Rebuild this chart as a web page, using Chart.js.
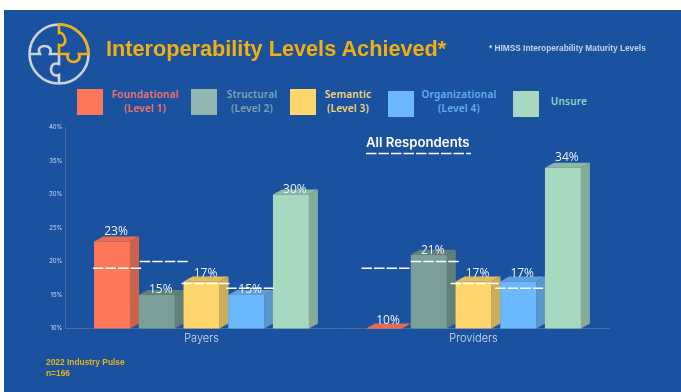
<!DOCTYPE html>
<html>
<head>
<meta charset="utf-8">
<title>Interoperability Levels Achieved</title>
<script src="https://cdn.jsdelivr.net/npm/chart.js@4"></script>
<style>
    html, body { margin: 0; padding: 0; background: #fff; }
    #page { position: relative; width: 681px; height: 392px; overflow: hidden; }
    #panel { position: absolute; left: 4px; top: 10px; width: 677px; height: 382px; background: #1a52a0; }
    #chart-box { position: absolute; left: 0; top: 0; width: 681px; height: 392px; }
    .txt { position: absolute; white-space: nowrap; }
    #title { left: 106px; top: 36px; font: bold 21.7px "Liberation Sans", sans-serif; color: #f2b00e; }
    #note { left: 489px; top: 43px; font: bold 8.3px "Liberation Sans", sans-serif; color: #c9d3e6; }
    #pulse { left: 46px; top: 357px; font: bold 8.4px/11px "Liberation Sans", sans-serif; color: #e8b31c; }
    #resp { left: 366px; top: 134px; font: 600 13.2px Inter, sans-serif; color: #fff; }
    .swatch { position: absolute; width: 26px; height: 26px; }
    .leg { position: absolute; text-align: center; font: 600 10px/13.5px "Noto Sans", sans-serif; letter-spacing: 0.2px; white-space: nowrap; transform: translateX(-50%); }
    #logo { position: absolute; left: 28px; top: 23px; }
</style>
</head>
<body>
<div id="page">
    <div id="panel"></div>
    <svg id="logo" width="64" height="64" viewBox="0 0 64 64" fill="none" stroke-width="2.6">
        <g stroke="#cdd3da">
            <circle cx="31" cy="31" r="29.5"/>
            <path d="M2 31 H12 C9 25 13 23 17 23 C21 23 24 26 22 31 H31 V41 C25 39 23 43 23 46.5 C23 50 26 54 31 52 V60"/>
        </g>
        <g stroke="#f2b00e">
            <path d="M31 1.5 A29.5 29.5 0 0 1 60.5 31 H51 C53 36 49 39 45.5 39 C42 39 38 36 40 31 H31 V22 C36 24 38 19 37 15.5 C36 12 34 9 31 10 Z"/>
        </g>
    </svg>
    <div id="legend"></div>
    <div id="chart-box"><canvas id="chart" width="681" height="392"></canvas></div>
    <div class="txt" id="title">Interoperability Levels Achieved*</div>
    <div class="txt" id="note">* HIMSS Interoperability Maturity Levels</div>
    <div class="txt" id="resp">All Respondents</div>
    <div class="txt" id="pulse">2022 Industry Pulse<br>n=166</div>
</div>
<script>
const groups = ['Payers', 'Providers'];
const levels = ['Foundational\n(Level 1)', 'Structural\n(Level 2)', 'Semantic\n(Level 3)', 'Organizational\n(Level 4)', 'Unsure'];
const foundational = [23, 10];
const structural = [15, 21];
const semantic = [17, 17];
const organizational = [15, 17];
const unsure = [30, 34];
// all-respondents figure per level, the dashed markers
const allRespondents = [19, 20, 16.7, 16, null];
const yTicks = [10, 15, 20, 25, 30, 35, 40];

const frontColors = ['#ff7759', '#7a9e9a', '#ffd66b', '#6cb8ff', '#a8d8c0'];
const sideColors = ['#cc6349', '#61807a', '#ccae58', '#5a97cc', '#86ac99'];
const topColors = ['#e56c52', '#648279', '#e3bd5c', '#5f9fdc', '#8fb8a2'];
const swatchColors = ['#ff7759', '#93b7b3', '#ffd66b', '#6cb8ff', '#a8d8c0'];
const legendTextColors = ['#f0736a', '#7fa3ab', '#f7d675', '#66aef0', '#97d3c4'];

const DEPTH_X = 9, DEPTH_Y = 5;

// legend row is plain html
const swatchX = [77, 191, 290, 388, 513];
const swatchY = [89, 89, 89, 91, 91];
const labelX = [145, 252, 348, 459, 569];
const legendBox = document.getElementById('legend');
levels.forEach(function(name, i) {
    const sw = document.createElement('div');
    sw.className = 'swatch';
    sw.style.left = swatchX[i] + 'px';
    sw.style.top = swatchY[i] + 'px';
    sw.style.background = swatchColors[i];
    legendBox.appendChild(sw);
    const lab = document.createElement('div');
    lab.className = 'leg';
    lab.style.left = labelX[i] + 'px';
    lab.style.top = (name.includes('\n') ? 88 : 95) + 'px';
    lab.style.color = legendTextColors[i];
    lab.innerHTML = name.replace('\n', '<br>');
    legendBox.appendChild(lab);
});

// side and top faces go under the front faces the library draws
const boxFaces = {
    id: 'boxFaces',
    beforeDatasetsDraw(chart) {
        const ctx = chart.ctx;
        const floor = chart.scales.y.getPixelForValue(10);
        chart.data.datasets.forEach(function(ds, i) {
            chart.getDatasetMeta(i).data.forEach(function(bar) {
                const left = bar.x - bar.width / 2;
                const right = bar.x + bar.width / 2;
                ctx.fillStyle = topColors[i];
                ctx.beginPath();
                ctx.moveTo(left, bar.y);
                ctx.lineTo(left + DEPTH_X, bar.y - DEPTH_Y);
                ctx.lineTo(right + DEPTH_X, bar.y - DEPTH_Y);
                ctx.lineTo(right, bar.y);
                ctx.closePath();
                ctx.fill();
                ctx.fillStyle = sideColors[i];
                ctx.beginPath();
                ctx.moveTo(right, bar.y);
                ctx.lineTo(right + DEPTH_X, bar.y - DEPTH_Y);
                ctx.lineTo(right + DEPTH_X, floor - DEPTH_Y);
                ctx.lineTo(right, floor);
                ctx.closePath();
                ctx.fill();
            });
        });
    }
};

// percent labels and the dashed all-respondents markers
const dashShift = [[5, 1.5], [7, 6], [4, 1], [4, 1]];
const labelLift = [[6, 5], [2, 1], [5, 5], [2, 5], [2, 7]];
const overlays = {
    id: 'overlays',
    afterDatasetsDraw(chart) {
        const ctx = chart.ctx;
        const y = chart.scales.y;

        ctx.save();
        ctx.fillStyle = '#eef3fa';
        ctx.font = '12px "Open Sans", sans-serif';
        ctx.textAlign = 'center';
        ctx.textBaseline = 'alphabetic';
        chart.data.datasets.forEach(function(ds, i) {
            chart.getDatasetMeta(i).data.forEach(function(bar, g) {
                ctx.fillText(ds.data[g] + '%', bar.x + 4, bar.y - labelLift[i][g]);
            });
        });
        ctx.restore();

        ctx.save();
        ctx.strokeStyle = '#ffffff';
        ctx.lineWidth = 1.5;
        ctx.setLineDash([10.5, 2]);
        allRespondents.forEach(function(v, i) {
            if (v === null) return;
            chart.getDatasetMeta(i).data.forEach(function(bar, g) {
                const cx = bar.x + dashShift[i][g];
                ctx.beginPath();
                ctx.moveTo(cx - 24, y.getPixelForValue(v));
                ctx.lineTo(cx + 24, y.getPixelForValue(v));
                ctx.stroke();
            });
        });
        // header underline sits under the All Respondents text
        ctx.beginPath();
        ctx.moveTo(366, 153.5);
        ctx.lineTo(471, 153.5);
        ctx.stroke();
        ctx.restore();
    }
};

new Chart(document.getElementById('chart').getContext('2d'), {
    type: 'bar',
    data: {
        labels: groups,
        datasets: [foundational, structural, semantic, organizational, unsure].map(function(vals, i) {
            return {
                label: levels[i],
                data: vals,
                backgroundColor: frontColors[i],
                borderWidth: 0,
                categoryPercentage: 0.822,
                barPercentage: 0.805
            };
        })
    },
    options: {
        responsive: false,
        animation: false,
        layout: { padding: { left: 35.5, right: 71.5, top: 127.5, bottom: 33.5 } },
        plugins: { legend: { display: false }, title: { display: false }, tooltip: { enabled: false } },
        scales: {
            x: {
                offset: true,
                afterFit(scale) { scale.height = 30; },
                grid: { display: false, drawTicks: false },
                border: { color: '#4d6d9f', width: 1 },
                ticks: { color: '#d5deec', padding: 4, font: { family: 'Inter, sans-serif', size: 11, weight: '300' } }
            },
            y: {
                min: 10,
                max: 40,
                afterFit(scale) { scale.width = 30; },
                afterBuildTicks(scale) { scale.ticks = yTicks.map(function(v) { return { value: v }; }); },
                grid: { display: false, drawTicks: false },
                border: { color: '#4d6d9f', width: 1 },
                ticks: {
                    color: '#d5deec',
                    padding: 3,
                    font: { family: 'Inter, sans-serif', size: 6 },
                    callback: function(v) { return v + '%'; }
                }
            }
        }
    },
    plugins: [boxFaces, overlays]
});
</script>
</body>
</html>
